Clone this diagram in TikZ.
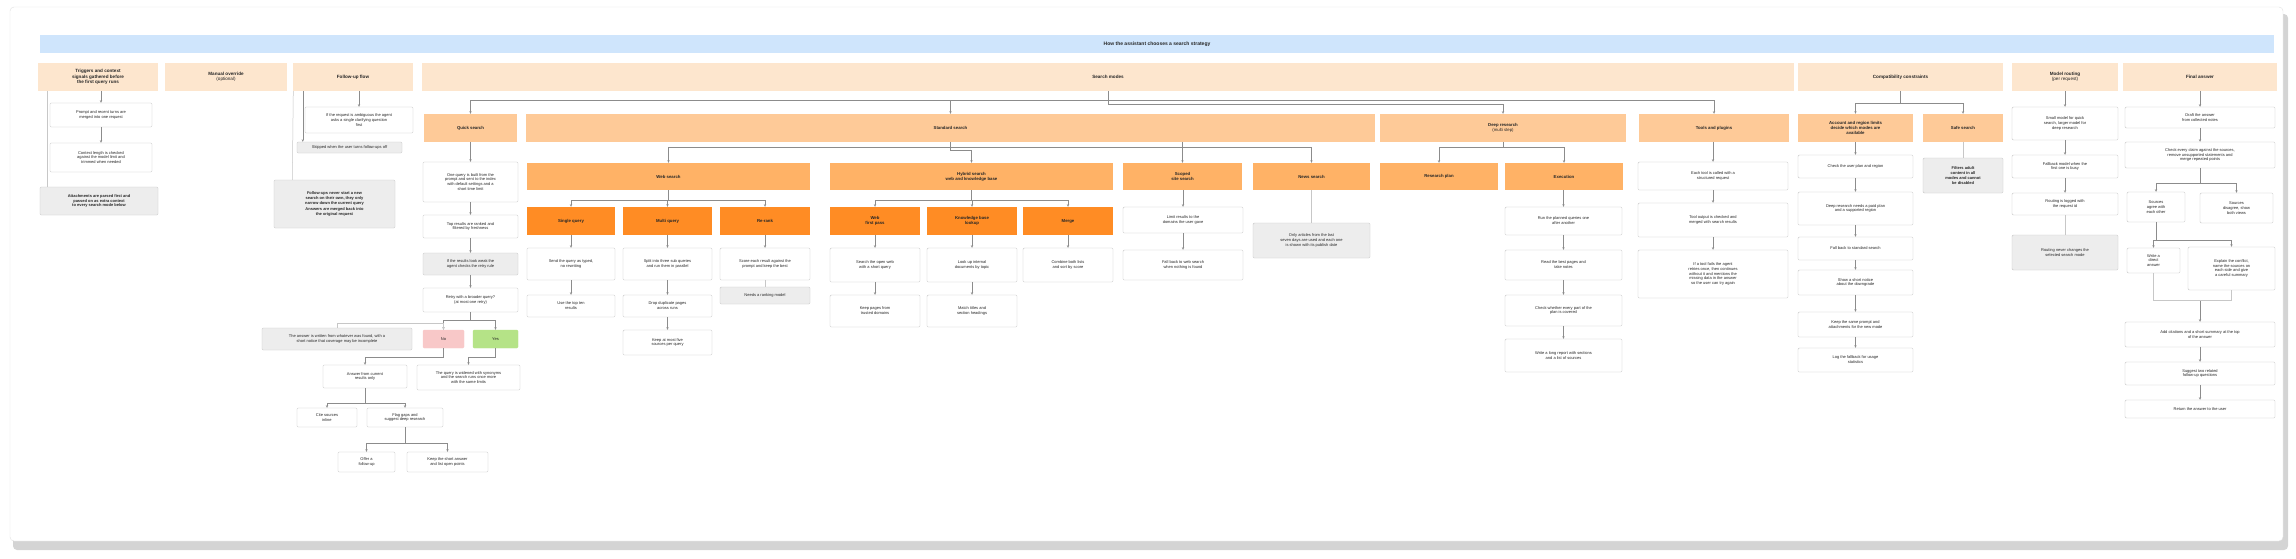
\documentclass[tikz,border=0pt]{standalone}
\usepackage{fontspec}
\setmainfont{Liberation Sans}
\usetikzlibrary{arrows.meta}
\definecolor{titlec}{HTML}{CFE5FC}
\definecolor{hdrc}{HTML}{FDE6CE}
\definecolor{lvla}{HTML}{FECA98}
\definecolor{lvlb}{HTML}{FFB266}
\definecolor{lvlc}{HTML}{FF8C24}
\definecolor{noc}{HTML}{F8C8C8}
\definecolor{yesc}{HTML}{B5E387}
% box from (x1,y1) to (x2,y2), y downwards
\newcommand\bx[6][box]{\node[#1, minimum width={(#4-#2)*1pt}, minimum height={(#5-#3)*1pt}] (#6) at ({(#2+#4)/2},{(#3+#5)/2})}

\begin{document}
\begin{tikzpicture}[x=1pt, y=-1pt,
  box/.style={draw=black!22, fill=white, rounded corners=1.2pt, align=center, inner sep=0.8pt, text=black!85, font=\fontsize{4}{4.9}\selectfont},
  note/.style={box, fill=black!7},
  bnote/.style={note, font=\fontsize{4}{4.9}\selectfont\bfseries},
  hdr/.style={fill=hdrc, align=center, inner sep=0.8pt, text=black!85, font=\fontsize{4.6}{5.4}\selectfont\bfseries},
  lvl1/.style={hdr, fill=lvla, font=\fontsize{4.3}{5.1}\selectfont\bfseries},
  lvl2/.style={lvl1, fill=lvlb},
  lvl3/.style={lvl1, fill=lvlc},
  arr/.style={draw=black!45, line width=0.5pt, -{Stealth[length=2.6pt,width=2.3pt]}},
  ln/.style={draw=black!22, line width=0.5pt}]

\useasboundingbox (0,0) rectangle (2296,558);
\fill[black!17, rounded corners=4pt] (13,14) rectangle (2288,550);
\filldraw[fill=white, draw=black!12, rounded corners=4pt] (10,7) rectangle (2283,541);

\bx[hdr, fill=titlec, font=\fontsize{5}{6}\selectfont\bfseries]{40}{35}{2274}{53}{ttl} {How the assistant chooses a search strategy};

% column headers
\bx[hdr]{38}{63}{158}{91}{h1} {Triggers and context\\signals gathered before\\the first query runs};
\bx[hdr]{165}{63}{287}{91}{h2} {Manual override\\{\mdseries (optional)}};
\bx[hdr]{293}{63}{413}{91}{h3} {Follow-up flow};
\bx[hdr]{422}{63}{1794}{91}{h4} {Search modes};
\bx[hdr]{1798}{63}{2003}{91}{h5} {Compatibility constraints};
\bx[hdr]{2012}{63}{2118}{91}{h6} {Model routing\\{\mdseries (per request)}};
\bx[hdr]{2123}{63}{2277}{91}{h7} {Final answer};

% triggers
\bx{50}{103}{152}{127}{b1} {Prompt and recent turns are\\merged into one request};
\bx{50}{143}{152}{172}{b2} {Context length is checked\\against the model limit and\\trimmed when needed};
\bx[bnote]{40}{187}{158}{215}{b3} {Attachments are parsed first and\\passed on as extra context\\to every search mode below};

% follow-up
\bx{305}{107}{413}{133}{k1} {If the request is ambiguous the agent\\asks a single clarifying question\\first};
\bx[note]{297}{142}{402}{153}{k2} {Skipped when the user turns follow-ups off};
\bx[bnote]{274}{180}{395}{228}{k3} {Follow-ups never start a new\\search on their own, they only\\narrow down the current query\\[2pt]Answers are merged back into\\the original request};

% search modes
\bx[lvl1]{424}{114}{517}{142}{c1} {Quick search};
\bx[lvl1]{526}{114}{1375}{142}{c2} {Standard search};
\bx[lvl1]{1380}{114}{1626}{142}{c3} {Deep research\\{\mdseries (multi step)}};
\bx[lvl1]{1639}{114}{1789}{142}{c4} {Tools and plugins};

\bx{423}{162}{518}{202}{q1} {One query is built from the\\prompt and sent to the index\\with default settings and a\\short time limit};
\bx{423}{215}{518}{238}{q2} {Top results are ranked and\\filtered by freshness};
\bx[note]{423}{253}{518}{275}{q3} {If the results look weak the\\agent checks the retry rule};
\bx{423}{288}{518}{312}{q4} {Retry with a broader query?\\(at most one retry)};
\bx[box, fill=noc, draw=noc]{423}{330}{464}{348}{no} {No};
\bx[box, fill=yesc, draw=yesc]{473}{330}{518}{348}{yes} {Yes};
\bx[note]{262}{328}{412}{350}{nt} {The answer is written from whatever was found, with a\\short notice that coverage may be incomplete};
\bx{323}{365}{407}{388}{r1} {Answer from current\\results only};
\bx{417}{365}{520}{390}{g1} {The query is widened with synonyms\\and the search runs once more\\with the same limits};
\bx{297}{408}{357}{427}{r2} {Cite sources\\inline};
\bx{367}{408}{443}{427}{r3} {Flag gaps and\\suggest deep research};
\bx{338}{452}{395}{472}{r4} {Offer a\\follow-up};
\bx{407}{452}{488}{472}{r5} {Keep the short answer\\and list open points};

\bx[lvl2]{527}{163}{810}{190}{s1} {Web search};
\bx[lvl2]{830}{163}{1113}{190}{s2} {Hybrid search\\web and knowledge base};
\bx[lvl2]{1123}{163}{1242}{190}{s3} {Scoped\\site search};
\bx[lvl2]{1253}{163}{1370}{190}{s4} {News search};

\bx[lvl3]{527}{207}{615}{235}{t1} {Single query};
\bx[lvl3]{623}{207}{712}{235}{t2} {Multi query};
\bx[lvl3]{720}{207}{810}{235}{t3} {Re-rank};
\bx[lvl3]{830}{207}{920}{235}{u1} {Web\\first pass};
\bx[lvl3]{927}{207}{1017}{235}{u2} {Knowledge base\\lookup};
\bx[lvl3]{1023}{207}{1113}{235}{u3} {Merge};

\bx{527}{248}{615}{280}{x1a} {Send the query as typed,\\no rewriting};
\bx{527}{295}{615}{317}{x1b} {Use the top ten\\results};
\bx{623}{248}{712}{280}{x2a} {Split into three sub queries\\and run them in parallel};
\bx{623}{295}{712}{317}{x2b} {Drop duplicate pages\\across runs};
\bx{623}{330}{712}{355}{x2c} {Keep at most five\\sources per query};
\bx{720}{248}{810}{280}{x3a} {Score each result against the\\prompt and keep the best};
\bx[note]{720}{287}{810}{304}{x3b} {Needs a ranking model};
\bx{830}{248}{920}{282}{y1a} {Search the open web\\with a short query};
\bx{830}{295}{920}{327}{y1b} {Keep pages from\\trusted domains};
\bx{927}{248}{1017}{282}{y2a} {Look up internal\\documents by topic};
\bx{927}{295}{1017}{327}{y2b} {Match titles and\\section headings};
\bx{1023}{248}{1113}{282}{y3a} {Combine both lists\\and sort by score};
\bx{1123}{207}{1243}{233}{v1} {Limit results to the\\domains the user gave};
\bx{1123}{250}{1243}{280}{v2} {Fall back to web search\\when nothing is found};
\bx[note]{1253}{223}{1370}{258}{sn} {Only articles from the last\\seven days are used and each one\\is shown with its publish date};

\bx[lvl2]{1380}{163}{1498}{190}{d1} {Research plan};
\bx[lvl2]{1505}{163}{1623}{190}{d2} {Execution};
\bx{1505}{207}{1622}{235}{e1} {Run the planned queries one\\after another};
\bx{1505}{250}{1622}{280}{e2} {Read the best pages and\\take notes};
\bx{1505}{295}{1622}{326}{e3} {Check whether every part of the\\plan is covered};
\bx{1505}{339}{1622}{372}{e4} {Write a long report with sections\\and a list of sources};

\bx{1638}{162}{1788}{190}{f1} {Each tool is called with a\\structured request};
\bx{1638}{203}{1788}{237}{f2} {Tool output is checked and\\merged with search results};
\bx{1638}{250}{1788}{298}{f3} {If a tool fails the agent\\retries once, then continues\\without it and mentions the\\missing data in the answer\\so the user can try again};

% compatibility
\bx[lvl1]{1798}{114}{1913}{142}{ca} {Account and region limits\\decide which modes are\\available};
\bx[lvl1]{1923}{114}{2003}{142}{cb} {Safe search};
\bx{1798}{155}{1913}{178}{cc1} {Check the user plan and region};
\bx{1798}{192}{1913}{225}{cc2} {Deep research needs a paid plan\\and a supported region};
\bx{1798}{237}{1913}{260}{cc3} {Fall back to standard search};
\bx{1798}{270}{1913}{295}{cc4} {Show a short notice\\about the downgrade};
\bx{1798}{312}{1913}{337}{cc5} {Keep the same prompt and\\attachments for the new mode};
\bx{1798}{348}{1913}{372}{cc6} {Log the fallback for usage\\statistics};
\bx[bnote]{1923}{158}{2003}{193}{cn} {Filters adult\\content in all\\modes and cannot\\be disabled};

% model routing
\bx{2012}{107}{2118}{140}{p1} {Small model for quick\\search, larger model for\\deep research};
\bx{2012}{155}{2118}{178}{p2} {Fallback model when the\\first one is busy};
\bx{2012}{193}{2118}{215}{p3} {Routing is logged with\\the request id};
\bx[note]{2012}{235}{2118}{270}{p4} {Routing never changes the\\selected search mode};

% final answer
\bx{2125}{107}{2275}{128}{w1} {Draft the answer\\from collected notes};
\bx{2125}{142}{2275}{168}{w2} {Check every claim against the sources,\\remove unsupported statements and\\merge repeated points};
\bx{2127}{192}{2185}{222}{w3} {Sources\\agree with\\each other};
\bx{2200}{193}{2273}{223}{w4} {Sources\\disagree, show\\both views};
\bx{2127}{248}{2180}{273}{w5} {Write a\\direct\\answer};
\bx{2188}{247}{2275}{290}{w6} {Explain the conflict,\\name the sources on\\each side and give\\a careful summary};
\bx{2125}{322}{2275}{347}{w7} {Add citations and a short summary at the top\\of the answer};
\bx{2125}{362}{2275}{385}{w8} {Suggest two related\\follow-up questions};
\bx{2125}{400}{2275}{418}{w9} {Return the answer to the user};
\coordinate (j) at (2200,300);

% straight arrows
\foreach \i/\j in {h1/b1, b1/b2, h3/k1, c1/q1, q1/q2, q2/q3, q3/q4, c2/s3, s3/v1, v1/v2,
    t1/x1a, x1a/x1b, t2/x2a, x2a/x2b, x2b/x2c, t3/x3a, u1/y1a, y1a/y1b, u2/y2a, y2a/y2b, u3/y3a,
    d2/e1, e1/e2, e2/e3, e3/e4, c4/f1, f1/f2, f2/f3, ca/cc1, cc1/cc2, cc2/cc3, cc3/cc4, cc4/cc5, cc5/cc6,
    h6/p1, p1/p2, p2/p3, h7/w1, w1/w2, j/w7, w7/w8, w8/w9}
    \draw[arr] (\i.south -| \j.north) -- (\j.north);
\foreach \i/\j in {x3a/x3b, s4/sn, cb/cn, p3/p4}
    \draw[ln] (\i.south -| \j.north) -- (\j.north);
% elbow arrows
\foreach \i/\j/\d in {h4/c1/9, h4/c2/9, h4/c4/9, h4/c3/13, h5/ca/12, h5/cb/12,
    c2/s1/5, c2/s4/5, c2/s2/8, c3/d1/5, c3/d2/5, s1/t1/10, s1/t2/10, s1/t3/10,
    s2/u1/10, s2/u2/10, s2/u3/10, q4/no/8, q4/yes/8, no/r1/9, yes/g1/9,
    r1/r2/15, r1/r3/15, r3/r4/16, r3/r5/16, w2/w3/15, w2/w4/15, w3/w5/18, w3/w6/18}
    \draw[arr] (\i.south) -- ++(0,\d) -| (\j.north);
\draw[ln] (w5.south) |- (j);
\draw[ln] (w6.south) |- (j);
\draw[ln] (no.north) -- ++(0,-7) -| (nt.north);
\draw[ln] ([xshift=9pt]h1.south west) -- ([xshift=7pt]b3.north west);
\draw[arr] ([xshift=10pt]h3.south west) -- ([xshift=6pt]k2.north west);
\draw[ln] ([xshift=0.5pt]h3.south west) -- ([xshift=18.5pt]k3.north west);
\end{tikzpicture}
\end{document}
